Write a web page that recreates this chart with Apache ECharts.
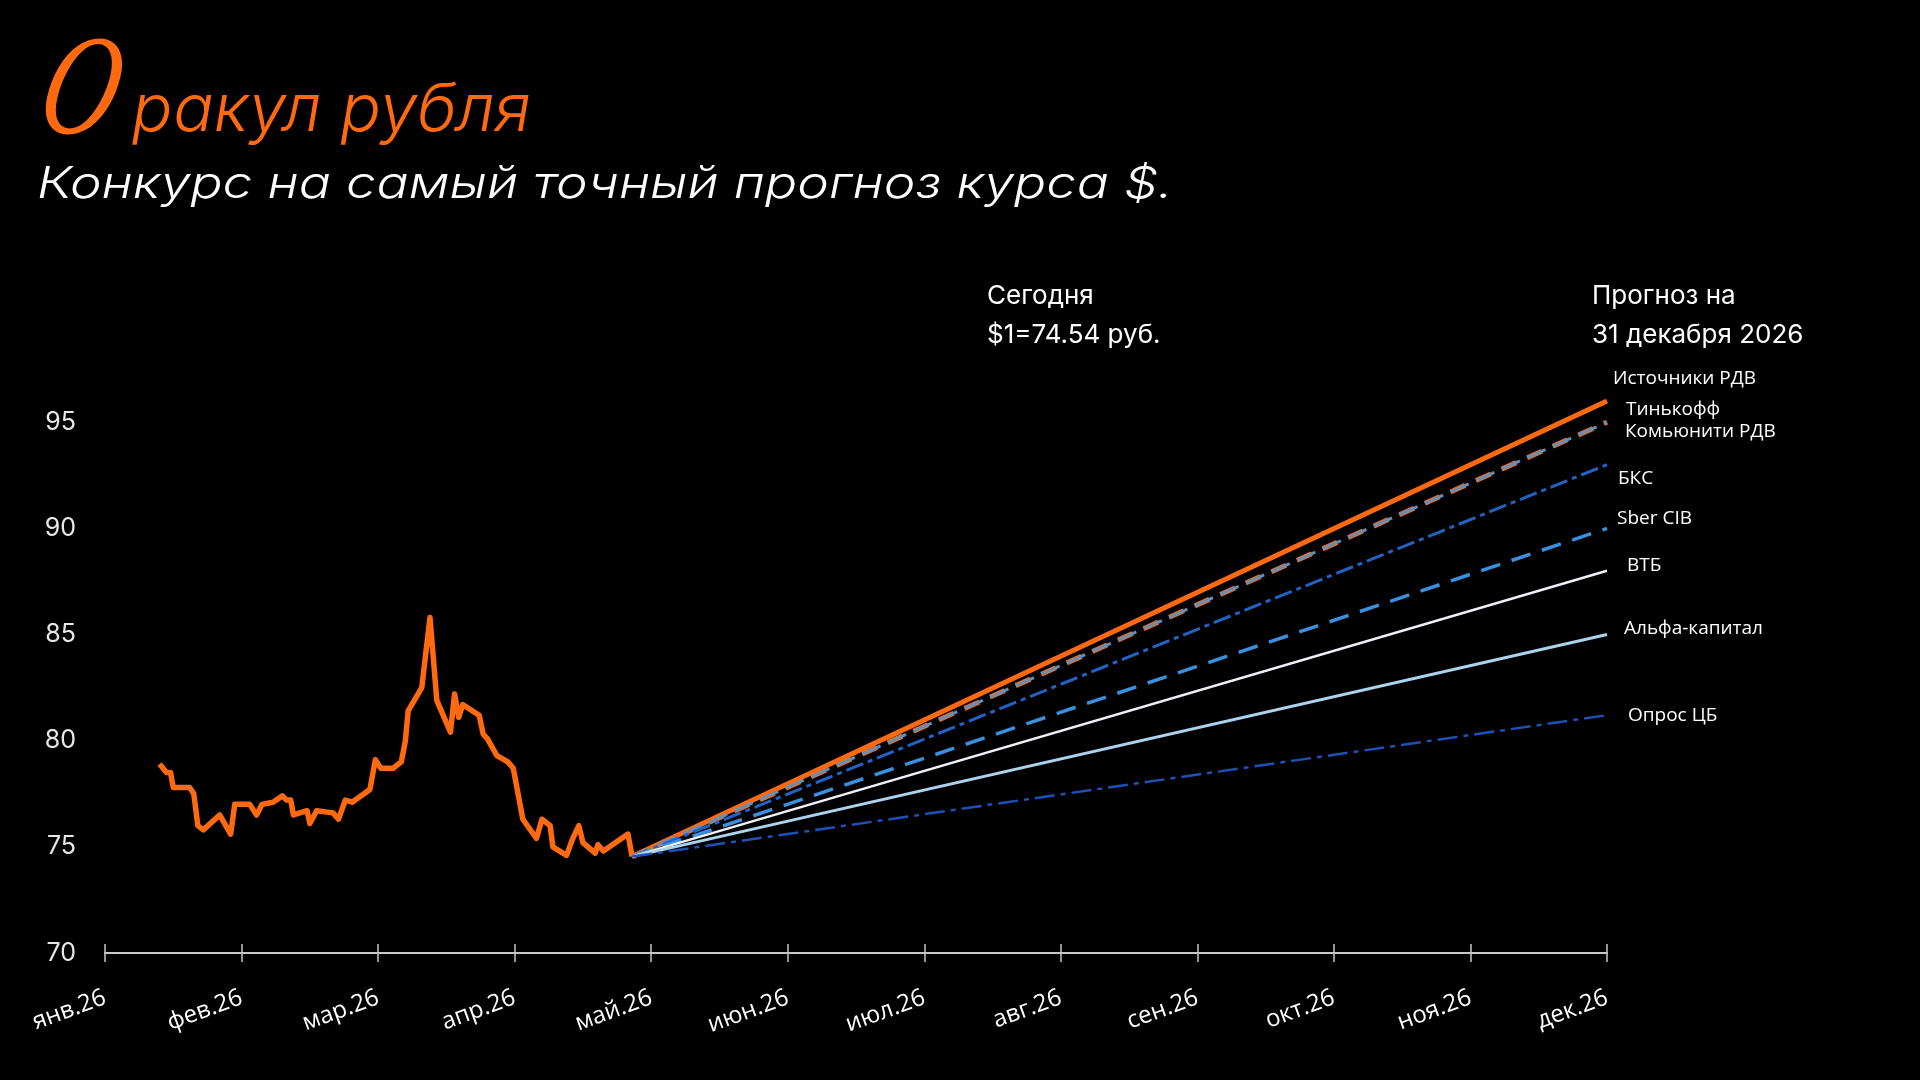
<!DOCTYPE html>
<html>
<head>
<meta charset="utf-8">
<title>Оракул рубля</title>
<script src="https://cdn.jsdelivr.net/npm/echarts@6/dist/echarts.min.js"></script>
<style>
  html, body { margin: 0; padding: 0; background: #000; }
  #chart { width: 1920px; height: 1080px; }
</style>
</head>
<body>
<div id="chart"></div>
<script>
// подписи месяцев по оси X (индекс 0..11)
const months = ['янв.26', 'фев.26', 'мар.26', 'апр.26', 'май.26', 'июн.26',
                'июл.26', 'авг.26', 'сен.26', 'окт.26', 'ноя.26', 'дек.26'];

// фактический курс: позиция в месяцах от 1 января и значение, руб.
const histX = [0.40, 0.45, 0.48, 0.50, 0.62, 0.65, 0.68, 0.72, 0.84, 0.92,
               0.95, 1.06, 1.11, 1.15, 1.23, 1.30, 1.33, 1.36, 1.38, 1.48,
               1.50, 1.55, 1.67, 1.71, 1.76, 1.81, 1.94, 1.98, 2.02, 2.11,
               2.17, 2.20, 2.22, 2.32, 2.38, 2.43, 2.53, 2.56, 2.59, 2.62,
               2.74, 2.77, 2.80, 2.87, 2.95, 2.99, 3.06, 3.16, 3.20, 3.26,
               3.28, 3.38, 3.42, 3.47, 3.50, 3.59, 3.61, 3.65, 3.83, 3.86];
const histY = [78.9, 78.5, 78.5, 77.8, 77.8, 77.5, 76.0, 75.8, 76.5, 75.6,
               77.0, 77.0, 76.5, 77.0, 77.1, 77.4, 77.2, 77.2, 76.5, 76.7,
               76.1, 76.7, 76.6, 76.3, 77.2, 77.1, 77.7, 79.1, 78.7, 78.7,
               79.0, 80.0, 81.4, 82.5, 85.8, 81.9, 80.4, 82.2, 81.1, 81.7,
               81.2, 80.3, 80.1, 79.3, 79.0, 78.7, 76.3, 75.4, 76.3, 76.0,
               75.0, 74.6, 75.3, 76.0, 75.2, 74.7, 75.1, 74.8, 75.6, 74.54];

// сегодня и прогнозы на конец года
const todayX = 3.86;
const todayRate = 74.54;
const endX = 11;
const forecastNames = ['Источники РДВ', 'Тинькофф', 'Комьюнити РДВ', 'БКС',
                       'Sber CIB', 'ВТБ', 'Альфа-капитал', 'Опрос ЦБ'];
const forecastEnd = [96, 95, 95, 93, 90, 88, 85, 81.2];

const orange = '#ff6a10';

// оформление линий прогноза (в том же порядке, что и forecastNames)
const forecastStyle = [
  { color: orange,    width: 5,   type: 'solid',          off: [-2, -22] },
  { color: orange,    width: 5,   type: [16, 12],         off: [11, -13] },
  { color: '#6390bb', width: 3,   type: [20, 8],          off: [10, 9] },
  { color: '#2262c4', width: 3,   type: [18, 5, 5, 5],    off: [3, 14] },
  { color: '#3a90dc', width: 3.5, type: [20, 12],         off: [2, -10] },
  { color: '#eef2f6', width: 2.5, type: 'solid',          off: [12, -5] },
  { color: '#acd2ee', width: 3,   type: 'solid',          off: [9, -6] },
  { color: '#1f50b8', width: 2.5, type: [20, 6, 5, 6],    off: [13, 0] }
];

const chart = echarts.init(document.getElementById('chart'));

const series = [{
  name: 'Курс',
  type: 'line',
  data: histX.map((x, i) => [x, histY[i]]),
  showSymbol: false,
  lineStyle: { color: orange, width: 5.5, join: 'round' },
  z: 3
}];

forecastNames.forEach((name, i) => {
  const st = forecastStyle[i];
  series.push({
    name: name,
    type: 'line',
    data: [[todayX, todayRate], [endX, forecastEnd[i]]],
    showSymbol: false,
    clip: false,
    lineStyle: { color: st.color, width: st.width, type: st.type },
    endLabel: {
      show: true,
      formatter: name,
      color: '#ffffff',
      fontFamily: 'Open Sans',
      fontSize: 19,
      offset: st.off
    },
    z: 4 + i
  });
});

chart.setOption({
  backgroundColor: '#000',
  animation: false,
  grid: { left: 105, right: 313, top: 316, bottom: 127 },
  xAxis: [{
    type: 'value',
    min: 0,
    max: 11,
    interval: 1,
    splitLine: { show: false },
    axisLine: { lineStyle: { color: '#c8c8c8', width: 2 } },
    axisTick: { show: true, length: 9, lineStyle: { color: '#c8c8c8', width: 1.5 } },
    axisLabel: {
      rotate: 20,
      margin: 44,
      color: '#ffffff',
      fontFamily: 'Open Sans',
      fontSize: 24,
      formatter: v => months[v]
    }
  }, {
    type: 'value',
    min: 0,
    max: 11,
    interval: 1,
    position: 'bottom',
    splitLine: { show: false },
    axisLine: { show: false },
    axisTick: { show: true, inside: true, length: 9, lineStyle: { color: '#c8c8c8', width: 1.5 } },
    axisLabel: { show: false }
  }],
  yAxis: {
    type: 'value',
    min: 70,
    max: 100,
    interval: 5,
    splitLine: { show: false },
    axisLine: { show: false },
    axisTick: { show: false },
    axisLabel: {
      showMaxLabel: false,
      margin: 29,
      color: '#e8e8e8',
      fontFamily: 'Inter',
      fontSize: 25
    }
  },
  graphic: [
    {
      type: 'text', x: 58, y: 24, scaleX: 0.78, scaleY: 1.05, skewX: -0.22,
      style: { text: 'О', font: 'italic 136px "Liberation Serif"', fill: orange }
    },
    {
      type: 'text', x: 132, y: 78, scaleX: 1.02,
      style: { text: 'ракул рубля', font: 'italic 300 66px Inter', fill: orange }
    },
    {
      type: 'text', x: 37, y: 163, scaleX: 1.215,
      style: { text: 'Конкурс на самый точный прогноз курса $.', font: 'italic 300 44px Inter', fill: '#ffffff' }
    },
    {
      type: 'text', x: 987, y: 277,
      style: { text: 'Сегодня\n$1=' + todayRate + ' руб.', font: '26px Inter', lineHeight: 39, fill: '#ffffff' }
    },
    {
      type: 'text', x: 1592, y: 277,
      style: { text: 'Прогноз на\n31 декабря 2026', font: '26px Inter', lineHeight: 39, fill: '#ffffff' }
    }
  ],
  series: series
});
</script>
</body>
</html>
